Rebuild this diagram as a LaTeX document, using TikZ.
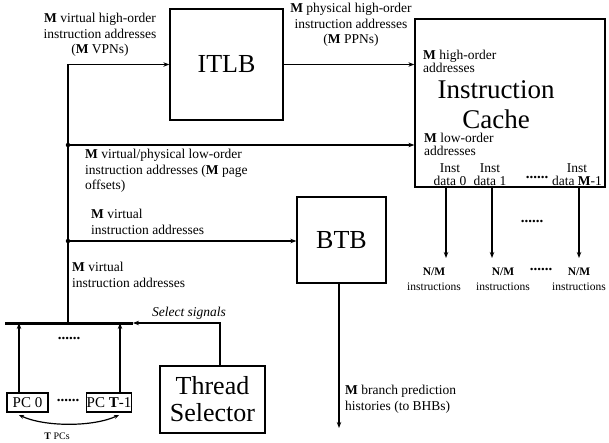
\documentclass[tikz,border=0pt]{standalone}
\usepackage{fontspec}
\setmainfont{Liberation Serif}
\usetikzlibrary{arrows.meta}
\tikzset{
  blk/.style={draw, line width=1.3pt, inner sep=0pt, font=\fontsize{26}{30}\selectfont},
  pcbox/.style={draw, line width=1.1pt, inner sep=0pt, font=\fontsize{15}{17}\selectfont},
  wire/.style={line width=1.4pt},
  arr/.style={wire, -{Stealth[length=6pt,width=4.5pt]}},
  lbl/.style={inner sep=0pt, font=\fontsize{13.5}{15.5}\selectfont},
  ilbl/.style={inner sep=0pt, font=\fontsize{13.5}{13}\selectfont, align=left, anchor=north west},
  nmlbl/.style={inner sep=0pt, font=\fontsize{11.5}{15}\selectfont, align=center},
  junct/.style={circle, fill, inner sep=0pt, minimum size=4.5pt},
  dots/.style={inner sep=0pt, font=\fontsize{15}{15}\bfseries\selectfont}
}
\begin{document}
\begin{tikzpicture}[x=1pt, y=-1pt]
\useasboundingbox (0,0) rectangle (609,443);

% main blocks
\node[blk, minimum width=113pt, minimum height=111pt] (itlb) at (226.5,64.5) {ITLB};
\node[blk, minimum width=190pt, minimum height=168pt] (cache) at (510,103) {};
\node[inner sep=0pt, font=\fontsize{27}{30}\selectfont, align=center] (cachelbl) at (496,105) {Instruction\\Cache};
\node[blk, minimum width=89pt, minimum height=86pt] (btb) at (341.5,240) {BTB};
\node[blk, minimum width=105pt, minimum height=67pt, align=center, font=\fontsize{26}{27}\selectfont] (ts) at (212.5,399.5) {Thread\\Selector};
\node[pcbox, minimum width=41pt, minimum height=19pt] (pc0) at (27.5,402.5) {PC 0};
\node[pcbox, minimum width=42pt, minimum height=19pt] (pct) at (109,402.5) {PC \textbf{T}-1};

% labels inside the cache
\node[ilbl] (hiaddr) at (423,50) {\textbf{M} high-order\\addresses};
\node[ilbl] (loaddr) at (424,133) {\textbf{M} low-order\\addresses};
\node[inner sep=0pt, font=\fontsize{13.5}{13}\selectfont, align=center, anchor=south] (d0) at (450,186) {Inst\\data 0};
\node[inner sep=0pt, font=\fontsize{13.5}{13}\selectfont, align=center, anchor=south] (d1) at (490,186) {Inst\\data 1};
\node[dots] (ddots) at (537,177) {......};
\node[inner sep=0pt, font=\fontsize{13.5}{13}\selectfont, align=center, anchor=south] (dm) at (577,186) {Inst\\data \textbf{M}-1};

% selection bus
\coordinate (busl) at (5,323);
\coordinate (busr) at (133,323);
\draw[line width=3pt] (busl) -- (busr);
\coordinate (v0) at (68,323);
\node[junct] (j1) at (68,145) {};
\node[junct] (j2) at (68,241) {};

% address paths
\draw[arr] (v0) |- (itlb.west);
\draw[arr] (j1.center) -- (j1.center -| cache.west);
\draw[arr] (j2.center) -- (j2.center -| btb.west);
\draw[arr] (itlb.east) -- (itlb.east -| cache.west);

% instruction outputs
\coordinate (o0) at (446,258);
\coordinate (o1) at (492,258);
\coordinate (o2) at (579,258);
\draw[arr] (o0 |- cache.south) -- (o0);
\draw[arr] (o1 |- cache.south) -- (o1);
\draw[arr] (o2 |- cache.south) -- (o2);
\node[dots] (odots) at (532,221) {......};
\node[nmlbl] (nm0) at (434,279) {\textbf{N/M}\\instructions};
\node[nmlbl] (nm1) at (503,279) {\textbf{N/M}\\instructions};
\node[dots] (nmdots) at (541,269) {......};
\node[nmlbl] (nm2) at (579,279) {\textbf{N/M}\\instructions};

% branch prediction output
\coordinate (bhb) at (339,428);
\draw[arr] (btb.south -| bhb) -- (bhb);

% thread selection
\draw[arr] ([xshift=7.5pt]ts.north) |- (busr);
\draw[arr] ([xshift=-8.5pt]pc0.north) -- ([xshift=-8.5pt]pc0.north |- busl);
\draw[arr] ([xshift=11pt]pct.north) -- ([xshift=11pt]pct.north |- busl);
\node[dots] (pdots) at (69,338) {......};
\node[dots] (pcdots) at (68,400) {......};
\coordinate (tl) at (19,415);
\coordinate (tr) at (119,415);
\draw[wire, line width=1.2pt, {Stealth[length=5pt,width=4pt]}-{Stealth[length=5pt,width=4pt]}] (tl) .. controls (45,427) and (93,427) .. (tr);
\node[lbl, font=\fontsize{10}{12}\selectfont] (tpcs) at (57,436) {\textbf{T} PCs};

% connector labels
\node[lbl, align=center] (vpn) at (100,35) {\textbf{M} virtual high-order\\instruction addresses\\(\textbf{M} VPNs)};
\node[lbl, align=center] (ppn) at (351,25) {\textbf{M} physical high-order\\instruction addresses\\(\textbf{M} PPNs)};
\node[lbl, align=left, anchor=north west] (loff) at (85,149) {\textbf{M} virtual/physical low-order\\instruction addresses (\textbf{M} page\\offsets)};
\node[lbl, align=left, anchor=north west] (vbtb) at (91,209) {\textbf{M} virtual\\instruction addresses};
\node[lbl, align=left, anchor=north west] (vbus) at (72,262) {\textbf{M} virtual\\instruction addresses};
\node[lbl, font=\fontsize{13.5}{14}\itshape\selectfont] (sel) at (189,313) {Select signals};
\node[lbl, align=left, anchor=north west] (bhbl) at (345,385) {\textbf{M} branch prediction\\histories (to BHBs)};
\end{tikzpicture}
\end{document}
